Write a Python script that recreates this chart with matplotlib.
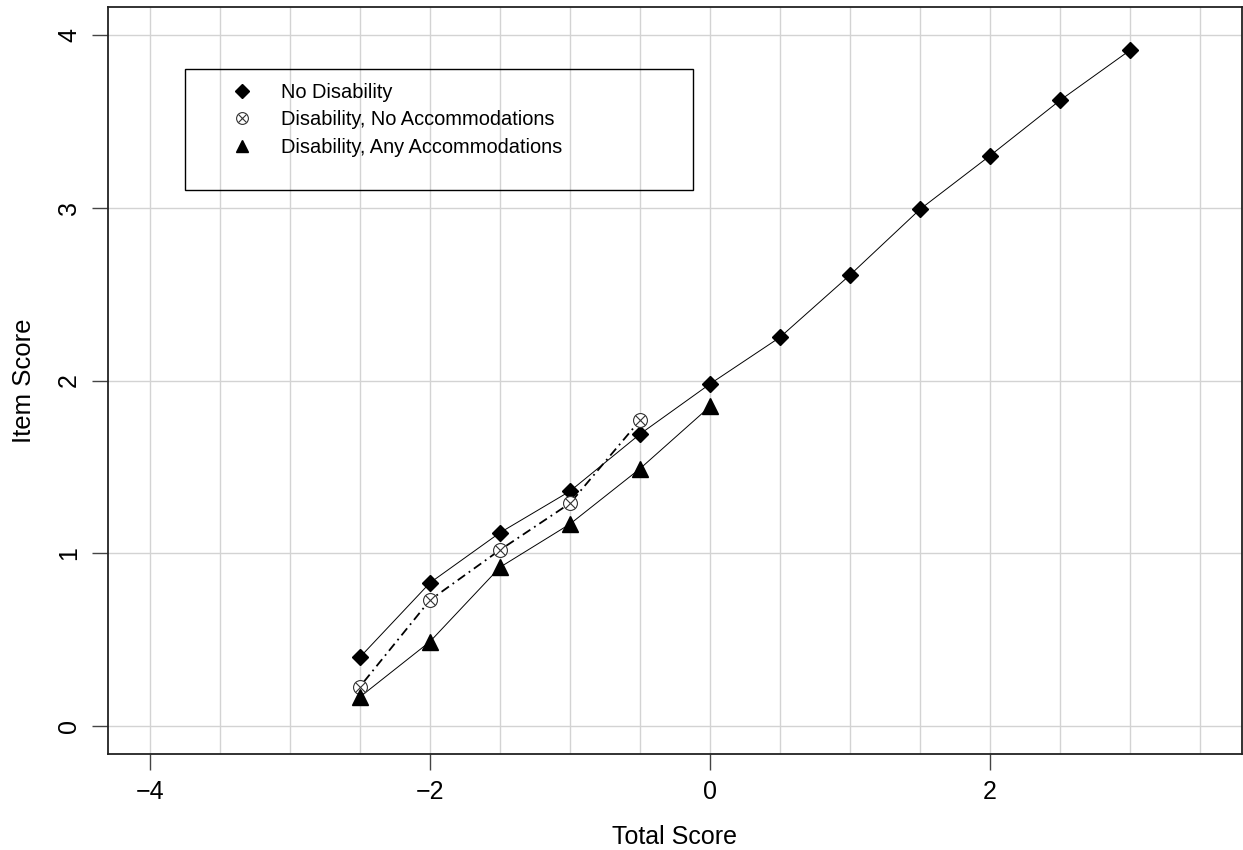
import numpy as np
import matplotlib
matplotlib.use("Agg")
import matplotlib.pyplot as plt
from matplotlib.patches import Rectangle
from matplotlib.legend_handler import HandlerTuple

plt.rcParams['font.family'] = ['Liberation Sans', 'DejaVu Sans']

x_all = [-2.5, -2.0, -1.5, -1.0, -0.5, 0.0, 0.5, 1.0, 1.5, 2.0, 2.5, 3.0]
no_disability = [0.40, 0.83, 1.12, 1.36, 1.69, 1.98, 2.25, 2.61, 2.99, 3.30, 3.62, 3.91]

x_noacc = [-2.5, -2.0, -1.5, -1.0, -0.5]
dis_no_acc = [0.23, 0.73, 1.02, 1.29, 1.77]

x_anyacc = [-2.5, -2.0, -1.5, -1.0, -0.5, 0.0]
dis_any_acc = [0.17, 0.49, 0.92, 1.17, 1.49, 1.85]

labels = ['No Disability', 'Disability, No Accommodations', 'Disability, Any Accommodations']
x_ticks = [-4, -2, 0, 2]
y_ticks = [0, 1, 2, 3, 4]

fig = plt.figure(figsize=(12.43, 8.5), dpi=100)
ax = fig.add_axes([108 / 1243, 96 / 850, 1134 / 1243, 747 / 850])

ax.set_xlim(-4.3, 3.8)
ax.set_ylim(-0.16, 4.16)

# grid
for gx in np.arange(-4, 3.51, 0.5):
    ax.axvline(gx, color='#d3d3d3', lw=1.0, zorder=0)
for gy in y_ticks:
    ax.axhline(gy, color='#d3d3d3', lw=1.0, zorder=0)

ax.plot(x_all, no_disability, color='black', lw=0.7, zorder=2)
h1, = ax.plot(x_all, no_disability, ls='none', marker='D', ms=8, color='black', zorder=3)

ax.plot(x_noacc, dis_no_acc, color='black', lw=1.3, ls=(0, (1, 2.5, 5, 2.5)), zorder=2)
h2a, = ax.plot(x_noacc, dis_no_acc, ls='none', marker='o', ms=10, mfc='white', mec='#333333',
               mew=0.8, zorder=3)
h2b, = ax.plot(x_noacc, dis_no_acc, ls='none', marker='x', ms=7.5, color='#333333', mew=0.8, zorder=4)

ax.plot(x_anyacc, dis_any_acc, color='black', lw=0.7, zorder=2)
h3, = ax.plot(x_anyacc, dis_any_acc, ls='none', marker='^', ms=11, color='black', zorder=3)

ax.set_xticks(x_ticks)
ax.set_xticklabels(['\u22124', '\u22122', '0', '2'])
ax.set_yticks(y_ticks)
ax.set_yticklabels([str(v) for v in y_ticks], rotation=90, va='center')
ax.tick_params(axis='both', length=11.5, width=1.0, color='#444444', labelsize=18)
ax.tick_params(axis='x', pad=7)
ax.tick_params(axis='y', pad=8)

for sp in ax.spines.values():
    sp.set_linewidth(1.3)
    sp.set_color('#222222')

ax.set_xlabel('Total Score', fontsize=18, labelpad=15)
ax.set_ylabel('Item Score', fontsize=18.5, labelpad=15)

# legend box
ax.add_patch(Rectangle(((185 - 108) / 1134, (754 - 190) / 747),
                       (693 - 185) / 1134, (190 - 69) / 747, transform=ax.transAxes,
                       fill=False, ec='black', lw=1.0, zorder=5))
leg = ax.legend([h1, (h2a, h2b), h3], labels, loc='upper left',
                bbox_to_anchor=((232 - 108) / 1134, (754 - 83) / 747),
                frameon=False, fontsize=14.4, handlelength=1.0, handletextpad=1.45,
                borderpad=0, borderaxespad=0, labelspacing=0.42,
                handler_map={tuple: HandlerTuple(ndivide=1)})

# legend symbols are drawn a bit smaller than the plotted ones
for child in leg.get_children()[0].findobj(matplotlib.lines.Line2D):
    child.set_markersize(child.get_markersize() * 0.85)

fig.savefig('out.png', dpi=100)
